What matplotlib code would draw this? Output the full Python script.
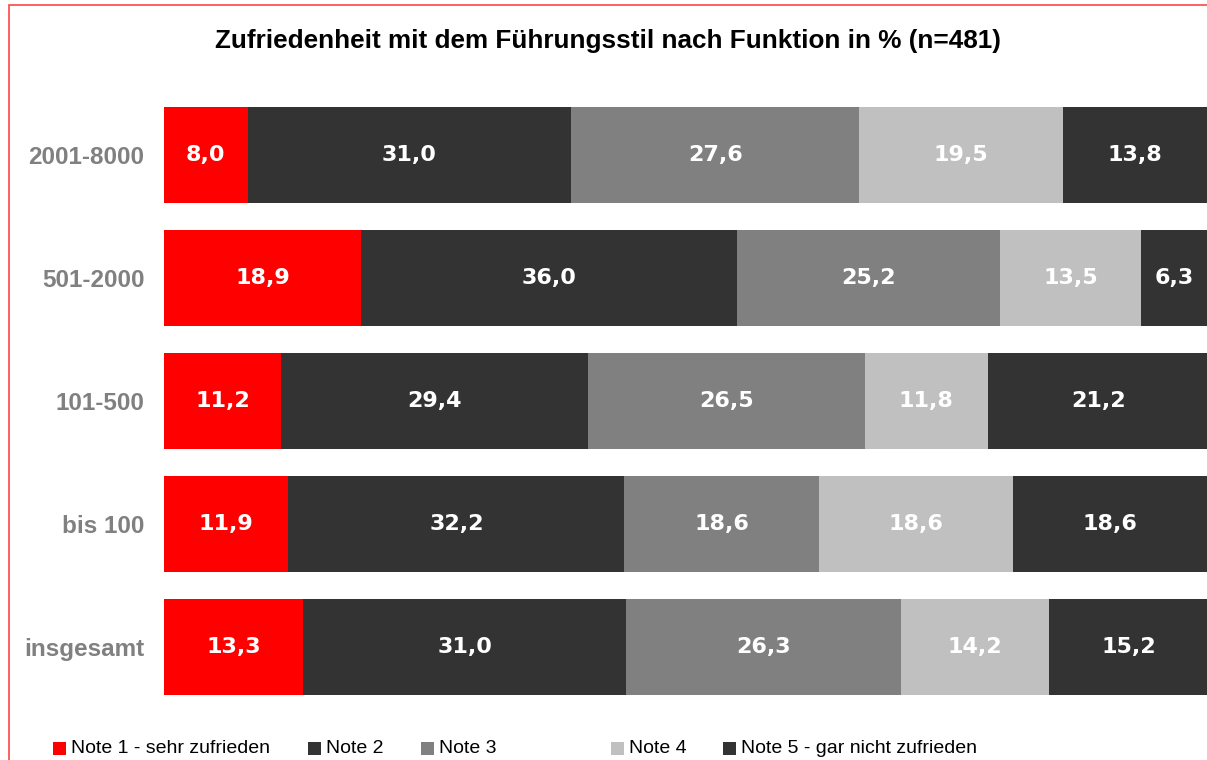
import matplotlib.pyplot as plt
from matplotlib.patches import Rectangle
import numpy as np

plt.rcParams['font.family'] = ['Liberation Sans', 'DejaVu Sans']

# data (bottom row first)
categories = ['insgesamt', 'bis 100', '101-500', '501-2000', '2001-8000']
note1 = [13.3, 11.9, 11.2, 18.9, 8.0]
note2 = [31.0, 32.2, 29.4, 36.0, 31.0]
note3 = [26.3, 18.6, 26.5, 25.2, 27.6]
note4 = [14.2, 18.6, 11.8, 13.5, 19.5]
note5 = [15.2, 18.6, 21.2, 6.3, 13.8]

series = [note1, note2, note3, note4, note5]
series_names = ['Note 1 - sehr zufrieden', 'Note 2', 'Note 3', 'Note 4',
                'Note 5 - gar nicht zufrieden']
colors = ['#FF0000', '#333333', '#808080', '#C0C0C0', '#333333']

W, H = 1207, 760
fig = plt.figure(figsize=(W / 100, H / 100), dpi=100)
ax = fig.add_axes([164 / W, 1 - 708.5 / H, 1044 / W, 615 / H])

y = np.arange(len(categories))
left = np.zeros(len(categories))
for vals, name, col in zip(series, series_names, colors):
    vals = np.array(vals)
    ax.barh(y, vals, left=left, height=0.78, color=col, label=name)
    for yi, l, v in zip(y, left, vals):
        ax.text(l + v / 2, yi, f'{v:.1f}'.replace('.', ','), ha='center',
                va='center', color='white', fontsize=16, fontweight='bold',
                family='DejaVu Sans')
    left += vals

ax.set_xlim(0, 100)
ax.set_ylim(-0.5, len(categories) - 0.5)
ax.set_yticks(y)
ax.set_yticklabels(categories, fontsize=17.5, fontweight='bold', color='#808080')
ax.tick_params(axis='y', length=0, pad=14)
ax.set_xticks([])
for s in ax.spines.values():
    s.set_visible(False)

fig.text(0.5035, 1 - 48 / H, 'Zufriedenheit mit dem Führungsstil nach Funktion in % (n=481)',
         ha='center', va='baseline', fontsize=18.8, fontweight='bold')

# legend drawn by hand to keep the original spacing
legend_x = [53, 308, 421, 611, 723]
for lx, name, col in zip(legend_x, series_names, colors):
    fig.add_artist(Rectangle((lx / W, 1 - 755 / H), 13 / W, 13 / H,
                             transform=fig.transFigure, color=col, lw=0))
    fig.text((lx + 18) / W, 1 - 753 / H, name, ha='left', va='baseline',
             fontsize=14, color='black')

# red frame, cropped on the right and bottom
fig.add_artist(Rectangle((8.7 / W, -0.1), 1.2, 1.1 - 5.5 / H,
                         transform=fig.transFigure, fill=False,
                         edgecolor='#FF4444', lw=1.2))

fig.savefig('out.png', dpi=100)
